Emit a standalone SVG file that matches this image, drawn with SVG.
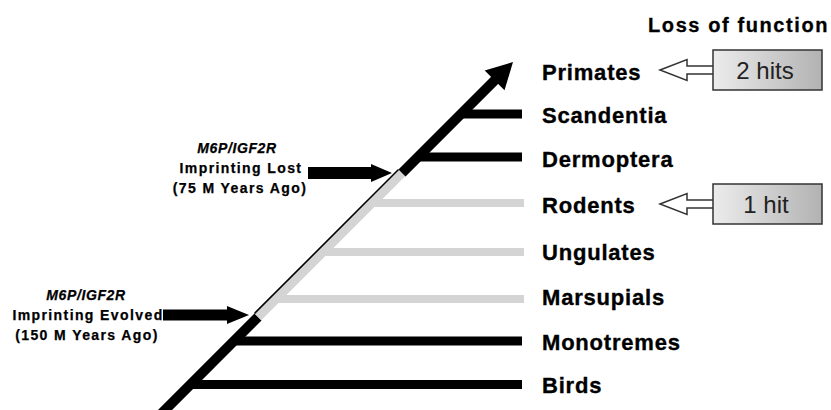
<svg xmlns="http://www.w3.org/2000/svg" width="831" height="410" viewBox="0 0 831 410">
  <defs>
    <linearGradient id="boxGrad" x1="0" y1="0" x2="1" y2="0">
      <stop offset="0" stop-color="#ececec"/>
      <stop offset="1" stop-color="#b2b2b2"/>
    </linearGradient>
    <style>
      .sp { font-family: "Liberation Sans", Arial, sans-serif; font-weight: bold; font-size: 22px; letter-spacing: 0.8px; fill: #000; stroke: #000; stroke-width: 0.35px; }
      .title { font-family: "Liberation Sans", Arial, sans-serif; font-weight: bold; font-size: 20px; letter-spacing: 1.6px; fill: #000; stroke: #000; stroke-width: 0.3px; }
      .ann { font-family: "Liberation Sans", Arial, sans-serif; font-weight: bold; font-size: 14px; letter-spacing: 1.4px; fill: #000; text-anchor: middle; stroke: #000; stroke-width: 0.25px; }
      .gene { font-style: italic; letter-spacing: 0.6px; }
      .hit { font-family: "Liberation Sans", Arial, sans-serif; font-size: 24px; fill: #222; text-anchor: middle; }
      .box { fill: url(#boxGrad); stroke: #333; stroke-width: 1.5; }
      .hollow { fill: #fff; stroke: #333; stroke-width: 1.5; stroke-linejoin: miter; }
      .bk { stroke: #000; stroke-width: 9; fill: none; }
      .gr { stroke: #d4d4d4; stroke-width: 8; fill: none; }
      .trunk { stroke: #000; stroke-width: 10; fill: none; }
      .trunkGray { stroke: #d4d4d4; stroke-width: 9; fill: none; }
      .edge { stroke: #000; stroke-width: 1.6; fill: none; }
    </style>
  </defs>

  <g id="connectors">
    <!-- branches -->
    <line class="bk" x1="461" y1="114" x2="522" y2="114"/>
    <line class="bk" x1="418" y1="157" x2="522" y2="157"/>
    <line class="gr" x1="372" y1="203" x2="524" y2="203"/>
    <line class="gr" x1="323" y1="252" x2="524" y2="252"/>
    <line class="gr" x1="276" y1="299" x2="524" y2="299"/>
    <line class="bk" x1="234" y1="341" x2="522" y2="341"/>
    <line class="bk" x1="190" y1="384.5" x2="522" y2="384.5"/>
    <!-- trunk -->
    <line class="trunk" x1="140" y1="435" x2="258" y2="317"/>
    <line class="trunkGray" x1="258" y1="317" x2="402" y2="173"/>
    <line class="edge" x1="254.5" y1="313.5" x2="398.5" y2="169.5"/>
    <line class="trunk" x1="402" y1="173" x2="497" y2="78"/>
    <polygon points="484.7,70.5 513,62 504.5,90.3" fill="#000"/>
    <!-- event arrows -->
    <polygon id="arrow-lost" points="308,167 371,167 371,164 392,173 371,182 371,179 308,179" fill="#000"/>
    <polygon id="arrow-evolved" points="163,309.5 227,309.5 227,306 249,315 227,324 227,320.5 163,320.5" fill="#000"/>
    <!-- hollow arrows -->
    <polygon class="hollow" points="660,70 687,59.5 687,66 714,66 714,74 687,74 687,80.5"/>
    <polygon class="hollow" points="660,204 687,193.5 687,200 714,200 714,208 687,208 687,214.5"/>
  </g>

  <g id="title"><text class="title" x="648" y="32">Loss of function</text></g>

  <g id="primates"><text class="sp" x="542" y="80">Primates</text></g>
  <g id="scandentia"><text class="sp" x="542" y="123">Scandentia</text></g>
  <g id="dermoptera"><text class="sp" x="542" y="167">Dermoptera</text></g>
  <g id="rodents"><text class="sp" x="542" y="213">Rodents</text></g>
  <g id="ungulates"><text class="sp" x="542" y="260">Ungulates</text></g>
  <g id="marsupials"><text class="sp" x="542" y="305">Marsupials</text></g>
  <g id="monotremes"><text class="sp" x="542" y="350">Monotremes</text></g>
  <g id="birds"><text class="sp" x="542" y="393">Birds</text></g>

  <g id="box-2hits">
    <rect class="box" x="713" y="50" width="109" height="40"/>
    <text class="hit" x="765" y="79">2 hits</text>
  </g>
  <g id="box-1hit">
    <rect class="box" x="713" y="184" width="109" height="40"/>
    <text class="hit" x="766" y="213">1 hit</text>
  </g>

  <g id="label-lost">
    <text class="ann gene" x="237" y="153">M6P/IGF2R</text>
    <text class="ann" x="241" y="173">Imprinting Lost</text>
    <text class="ann" x="240" y="193">(75 M Years Ago)</text>
  </g>
  <g id="label-evolved">
    <text class="ann gene" x="86" y="300">M6P/IGF2R</text>
    <text class="ann" x="88" y="320">Imprinting Evolved</text>
    <text class="ann" x="87" y="340">(150 M Years Ago)</text>
  </g>
</svg>
